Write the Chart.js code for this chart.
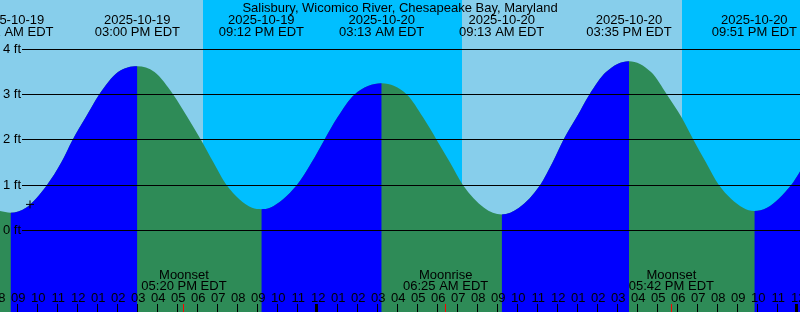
<!DOCTYPE html>
<html><head><meta charset="utf-8">
<script src="https://cdn.jsdelivr.net/npm/chart.js@4"></script>
<style>html,body{margin:0;padding:0;background:#fff;} canvas{display:block;}</style>
</head><body>
<canvas id="c" width="800" height="312"></canvas>
<script>
const title = "Salisbury, Wicomico River, Chesapeake Bay, Maryland";
// time axis: hours after 2025-10-19 09:00 AM EDT
const curveHours = [-0.9, -0.34, 0.434, 1.474, 2.194, 2.759, 3.419, 4.084, 5.034, 6.0,
  6.859, 7.799, 8.509, 9.184, 9.809, 10.469, 11.734, 12.2,
  12.634, 13.969, 14.709, 15.349, 16.009, 16.849, 18.217,
  19.484, 20.284, 20.969, 21.634, 22.284, 23.334, 24.217,
  25.084, 26.134, 26.759, 27.299, 27.959, 28.599, 29.434, 30.583,
  31.684, 32.484, 33.209, 33.809, 34.434, 35.084, 36.284, 36.85,
  37.484, 38.684, 39.2];
const curveFeet = [0.43, 0.39, 0.5, 1.0, 1.5, 2.0, 2.5, 3.0, 3.5, 3.63,
  3.5, 3.0, 2.5, 2.0, 1.5, 1.0, 0.5, 0.47,
  0.5, 1.0, 1.5, 2.0, 2.5, 3.0, 3.25,
  3.0, 2.5, 2.0, 1.5, 1.0, 0.5, 0.35,
  0.5, 1.0, 1.5, 2.0, 2.5, 3.0, 3.5, 3.74,
  3.5, 3.0, 2.5, 2.0, 1.5, 1.0, 0.5, 0.43,
  0.5, 1.0, 1.35];
const tideHours = [-0.32, 6.0, 12.2, 18.217, 24.217, 30.583, 36.85];
const tideDates = ["2025-10-19","2025-10-19","2025-10-19","2025-10-20","2025-10-20","2025-10-20","2025-10-20"];
const tideTimes = ["08:41 AM EDT","03:00 PM EDT","09:12 PM EDT","03:13 AM EDT","09:13 AM EDT","03:35 PM EDT","09:51 PM EDT"];
const moonHours = [8.333, 21.417, 32.7];
const moonNames = ["Moonset","Moonrise","Moonset"];
const moonTimes = ["05:20 PM EDT","06:25 AM EDT","05:42 PM EDT"];
const nightStart = [9.28, 33.23];
const nightEnd   = [22.23, 41];
const hourTicks = [-1,0,1,2,3,4,5,6,7,8,9,10,11,12,13,14,15,16,17,18,19,20,21,22,23,24,25,26,27,28,29,30,31,32,33,34,35,36,37,38,39];
const hourLabels = ["08","09","10","11","12","01","02","03","04","05","06","07","08","09","10","11","12","01","02","03","04","05","06","07","08","09","10","11","12","01","02","03","04","05","06","07","08","09","10","11","12"];
const midnightHours = [15, 39];
const depthTicks = [0, 1, 2, 3, 4];
const depthLabels = ["0 ft","1 ft","2 ft","3 ft","4 ft"];
const nowHour = 0.634, nowFeet = 0.575;

const FONT = '13px "Liberation Sans", Arial, sans-serif';
const BLUE = '#0000FF', GREEN = '#2E8B57', DAY = '#87CEEB', NIGHT = '#00BFFF';

const tidePlugin = {
  id: 'tide',
  beforeDraw(chart) {
    const {ctx, chartArea: a, scales: {x}} = chart;
    ctx.save();
    ctx.fillStyle = DAY;
    ctx.fillRect(a.left, a.top, a.right - a.left, a.bottom - a.top);
    ctx.fillStyle = NIGHT;
    nightStart.forEach((s, i) => {
      const x0 = Math.round(x.getPixelForValue(s));
      const x1 = Math.round(x.getPixelForValue(nightEnd[i]));
      ctx.fillRect(x0, a.top, x1 - x0, a.bottom - a.top);
    });
    ctx.restore();
  },
  afterDatasetsDraw(chart) {
    const {ctx, chartArea: a, scales: {x, y}} = chart;
    ctx.save();
    ctx.font = FONT;
    ctx.fillStyle = '#000';
    depthTicks.forEach((d, i) => {
      const py = y.getPixelForValue(d);
      ctx.fillRect(22, Math.floor(py), a.right - 22, 1);
      ctx.textAlign = 'left';
      ctx.textBaseline = 'middle';
      ctx.fillText(depthLabels[i], 3, Math.floor(py) + 0.5);
    });
    ctx.textBaseline = 'alphabetic';
    ctx.textAlign = 'center';
    ctx.fillText(title, 400, 12);
    tideHours.forEach((h, i) => {
      const px = x.getPixelForValue(h);
      ctx.fillText(tideDates[i], px, 24);
      ctx.fillText(tideTimes[i], px, 36);
    });
    moonHours.forEach((h, i) => {
      const px = x.getPixelForValue(h);
      ctx.fillText(moonNames[i], px, 279);
      ctx.fillText(moonTimes[i], px, 290);
    });
    hourTicks.forEach((h, i) => {
      const px = x.getPixelForValue(h);
      ctx.fillText(hourLabels[i], px + 1, 302);
      if (midnightHours.includes(h)) ctx.fillRect(Math.round(px) - 2, 304, 3, 8);
      else ctx.fillRect(Math.floor(px), 304, 1, 8);
    });
    ctx.fillStyle = '#FF0000';
    moonHours.forEach(h => {
      const px = x.getPixelForValue(h);
      ctx.fillRect(Math.floor(px), 304, 1, 8);
    });
    ctx.restore();
  }
};

const curvePoints = curveHours.map((h, i) => ({x: h, y: curveFeet[i]}));

new Chart(document.getElementById('c'), {
  type: 'line',
  data: {
    datasets: [
      {
        type: 'scatter',
        data: [{x: nowHour, y: nowFeet}],
        pointStyle: 'cross',
        pointRadius: 4,
        borderColor: '#000',
        backgroundColor: '#000',
        borderWidth: 1
      },
      {
        // rising limbs (blue), drawn above the base layer
        data: curvePoints,
        fill: 'start',
        borderWidth: 0,
        borderColor: 'rgba(0,0,0,0)',
        backgroundColor: BLUE,
        pointRadius: 0,
        cubicInterpolationMode: 'monotone',
        segment: {
          backgroundColor: c => (c.p1.parsed.y >= c.p0.parsed.y ? BLUE : 'rgba(0,0,0,0)')
        }
      },
      {
        // whole curve base (green shows on falling limbs)
        data: curvePoints,
        fill: 'start',
        borderWidth: 0,
        borderColor: 'rgba(0,0,0,0)',
        backgroundColor: GREEN,
        pointRadius: 0,
        cubicInterpolationMode: 'monotone'
      }
    ]
  },
  options: {
    responsive: false,
    animation: false,
    events: [],
    layout: {padding: 0, autoPadding: false},
    plugins: {legend: {display: false}, tooltip: {enabled: false}, title: {display: false}},
    scales: {
      x: {type: 'linear', min: -0.8667, max: 39.133, display: false},
      y: {type: 'linear', min: -1.803, max: 5.092, display: false}
    }
  },
  plugins: [tidePlugin]
});
</script>
</body></html>
